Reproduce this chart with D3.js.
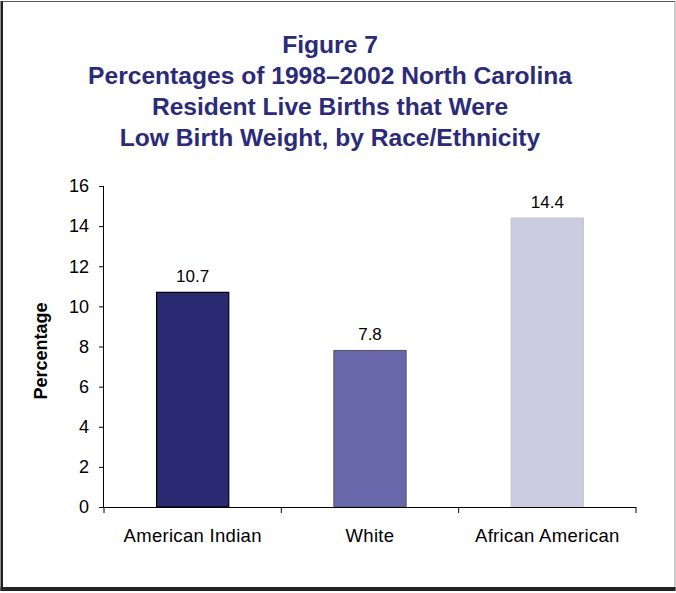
<!DOCTYPE html>
<html>
<head>
<meta charset="utf-8">
<script src="https://cdn.jsdelivr.net/npm/d3@7"></script>
<style>
  html, body { margin: 0; padding: 0; background: #fff; }
  svg { display: block; }
  text { font-family: "Liberation Sans", Arial, Helvetica, sans-serif; }
</style>
</head>
<body>
<svg id="chart" width="676" height="593"></svg>
<script>
const titleLines = [
  "Figure 7",
  "Percentages of 1998\u20132002 North Carolina",
  "Resident Live Births that Were",
  "Low Birth Weight, by Race/Ethnicity"
];
const categories = ["American Indian", "White", "African American"];
const values = [10.7, 7.8, 14.4];
const barColors = ["#2a2a72", "#6867ab", "#cbcce2"];
const barStrokes = ["#000000", "#5a5a6a", "#c8c8c8"];
const yTicks = [0, 2, 4, 6, 8, 10, 12, 14, 16];
const yLabel = "Percentage";

const svg = d3.select("#chart");
const W = 676, H = 593;

// frame
svg.append("rect").attr("x", 0).attr("y", 0).attr("width", W).attr("height", H).attr("fill", "#fff");
svg.append("line").attr("x1", 1).attr("x2", 675).attr("y1", 1.5).attr("y2", 1.5).attr("stroke", "#555").attr("stroke-width", 1);
svg.append("line").attr("x1", 675).attr("x2", 675).attr("y1", 1).attr("y2", 590).attr("stroke", "#999").attr("stroke-width", 1);
svg.append("rect").attr("x", 0.5).attr("y", 1).attr("width", 2.5).attr("height", 590).attr("fill", "#222");
svg.append("rect").attr("x", 0.5).attr("y", 587).attr("width", 675).attr("height", 4).attr("fill", "#222");

// title
const title = svg.append("text")
  .attr("text-anchor", "middle")
  .attr("fill", "#2b2b78")
  .attr("font-weight", "bold")
  .attr("font-size", 24.6);
titleLines.forEach((t, i) => {
  title.append("tspan").attr("x", 330).attr("y", 53 + i * 31).text(t);
});

const x0 = 104, x1 = 636, yTop = 186, yBot = 507;
const x = d3.scaleBand().domain(categories).range([x0, x1]).paddingInner(0.593).paddingOuter(0.2965);
const y = d3.scaleLinear().domain([0, 16]).range([yBot, yTop]);

// y axis
const yAxis = svg.append("g").attr("transform", `translate(${x0},0)`)
  .call(d3.axisLeft(y).tickValues(yTicks).tickSize(5).tickPadding(10).tickFormat(d3.format("d")));
yAxis.select(".domain").attr("stroke", "#000").attr("d", `M-0.5,${yTop}V${yBot}`);
yAxis.selectAll(".tick line").attr("stroke", "#000");
yAxis.selectAll(".tick text").attr("font-size", 18).attr("fill", "#000")
  .attr("font-family", "Liberation Sans, Arial, sans-serif");

// bars
svg.append("g").selectAll("rect").data(values).join("rect")
  .attr("x", (d, i) => x(categories[i]))
  .attr("y", d => y(d))
  .attr("width", x.bandwidth())
  .attr("height", d => yBot - y(d))
  .attr("fill", (d, i) => barColors[i])
  .attr("stroke", (d, i) => barStrokes[i])
  .attr("stroke-width", 1.2);

// x axis
const xAxis = svg.append("g");
xAxis.append("line").attr("x1", x0 - 0.5).attr("x2", x1).attr("y1", yBot + 0.5).attr("y2", yBot + 0.5).attr("stroke", "#000");
const step = x.step();
const bounds = d3.range(categories.length + 1).map(i => x0 + i * step);
xAxis.selectAll("line.tk").data(bounds).join("line").attr("class", "tk")
  .attr("x1", d => d).attr("x2", d => d)
  .attr("y1", yBot).attr("y2", yBot + 6).attr("stroke", "#000");
xAxis.selectAll("text").data(categories).join("text")
  .attr("x", d => x(d) + x.bandwidth() / 2)
  .attr("y", 542)
  .attr("text-anchor", "middle")
  .attr("font-size", 18.5)
  .attr("letter-spacing", 0.3)
  .attr("fill", "#000")
  .text(d => d);

// value labels
svg.append("g").selectAll("text").data(values).join("text")
  .attr("x", (d, i) => x(categories[i]) + x.bandwidth() / 2)
  .attr("y", d => y(d) - 10.5)
  .attr("text-anchor", "middle")
  .attr("font-size", 17)
  .attr("fill", "#000")
  .text(d => d.toFixed(1));

// y label
svg.append("text")
  .attr("transform", "translate(47,351) rotate(-90)")
  .attr("text-anchor", "middle")
  .attr("font-weight", "bold")
  .attr("font-size", 18)
  .attr("fill", "#000")
  .text(yLabel);
</script>
</body>
</html>
